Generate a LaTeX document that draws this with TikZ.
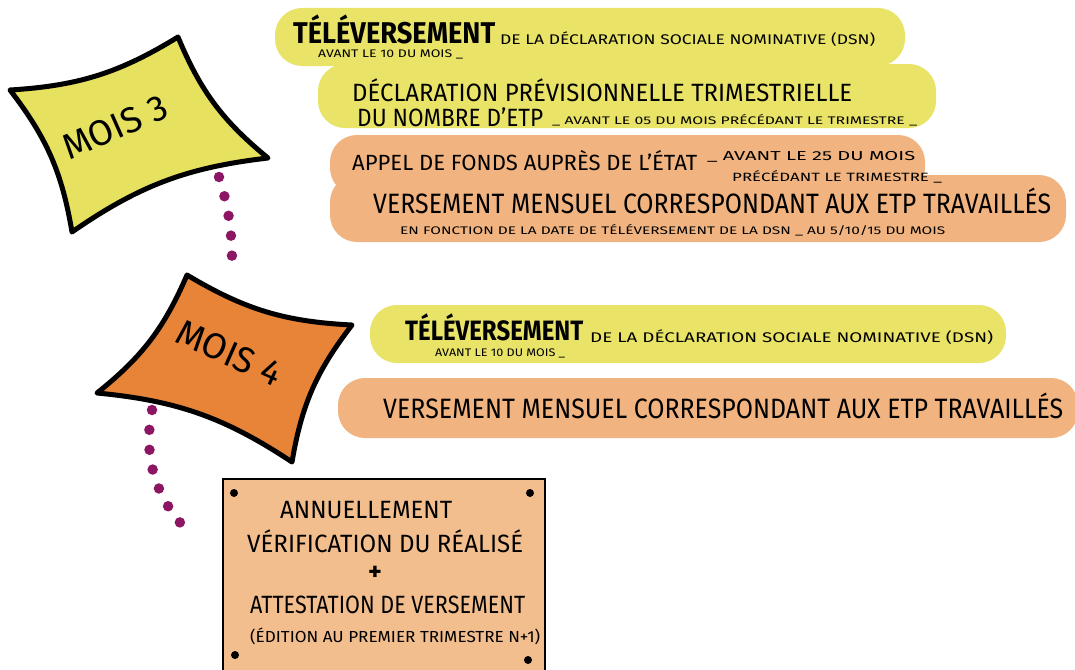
\documentclass[tikz,border=0pt]{standalone}
\usepackage{fontspec}
\usepackage{graphicx}
\setmainfont{Fira Sans}
\usetikzlibrary{calc}
\definecolor{barYellow}{RGB}{233,227,104}
\definecolor{barPeach}{RGB}{241,180,128}
\definecolor{moisYellow}{RGB}{230,225,95}
\definecolor{moisOrange}{RGB}{231,132,56}
\definecolor{boardFill}{RGB}{243,190,142}
\definecolor{dotPurple}{RGB}{140,22,100}
% stretch a line of text horizontally to a given width, keeping its height
\newcommand\hfitto[2]{\resizebox{#1}{\height}{#2}}
\tikzset{
  bar/.style={rounded corners=27pt, inner sep=0pt, draw=none},
  lbl/.style={anchor=base west, inner sep=0pt, text=black},
  moisline/.style={line width=5pt, line join=round, draw=black},
  dots/.style={draw=dotPurple, line width=10.5pt, line cap=round},
  pin/.style={circle, fill=black, inner sep=0pt, minimum size=8pt},
}
\begin{document}
\begin{tikzpicture}[x=1pt,y=-1pt]
\useasboundingbox[fill=white] (0,0) rectangle (1075,669);

% ---- coloured bands ----
\node[bar, fill=barYellow, minimum width=630pt, minimum height=58pt] (b1) at (590,37) {};
\node[bar, fill=barYellow, minimum width=618pt, minimum height=64pt] (b2) at (627,96) {};
\node[bar, fill=barPeach, minimum width=595pt, minimum height=60pt] (b3u) at (627.5,165) {};
\node[bar, fill=barPeach, minimum width=736pt, minimum height=67pt] (b3l) at (698,208.5) {};
\node[bar, fill=barYellow, minimum width=636pt, minimum height=58pt] (b4) at (688,334) {};
\node[bar, fill=barPeach, minimum width=740pt, minimum height=60pt] (b5) at (708,408) {};

% ---- month 3 ----
\coordinate (m3a) at (10,90);
\coordinate (m3b) at (178,37);
\coordinate (m3c) at (268,158);
\coordinate (m3d) at (72,232);
\draw[moisline, fill=moisYellow] (m3a) to[bend right=14] (m3b) to[bend right=14] (m3c)
  to[bend right=14] (m3d) to[bend right=14] cycle;
\node[rotate=24, inner sep=0pt] (m3t) at (115,127)
  {\fontsize{36}{36}\selectfont MOIS 3};

% ---- month 4 ----
\coordinate (m4a) at (187,275);
\coordinate (m4b) at (352,325);
\coordinate (m4c) at (292,462);
\coordinate (m4d) at (97,393);
\draw[moisline, fill=moisOrange] (m4a) to[bend right=14] (m4b) to[bend right=14] (m4c)
  to[bend right=14] (m4d) to[bend right=14] cycle;
\node[rotate=-24, inner sep=0pt] (m4t) at (229,353)
  {\fontsize{36}{36}\selectfont MOIS 4};

% ---- dotted links ----
\coordinate (d3s) at (219,177);
\coordinate (d3e) at (232,259);
\draw[dots, dash pattern=on 0pt off 20pt] (d3s) to[bend left=8] (d3e);
\coordinate (d4s) at (152,410);
\coordinate (d4e) at (183,526);
\draw[dots, dash pattern=on 0pt off 20pt] (d4s) .. controls (143,455) and (155,495) .. (d4e);

% ---- annual board ----
\node[draw=black, line width=2pt, fill=boardFill, minimum width=322pt, minimum height=200pt,
  inner sep=0pt, anchor=north west] (board) at (222,478) {};
\node[pin] (p1) at (234,493) {};
\node[pin] (p2) at (530,493) {};
\node[pin] (p3) at (235,655) {};
\node[pin] (p4) at (528,660) {};

% ---- texts of the first band ----
\node[lbl] (t1) at (293,44) {\fontsize{30}{30}\selectfont\bfseries\hfitto{202pt}{TÉLÉVERSEMENT}};
\node[lbl] (t1b) at (500,45) {\fontsize{14}{14}\selectfont\hfitto{375pt}{DE LA DÉCLARATION SOCIALE NOMINATIVE (DSN)}};
\node[lbl] (t1c) at (318,57) {\fontsize{11}{11}\selectfont\hfitto{145pt}{AVANT LE 10 DU MOIS \_}};

% ---- second band ----
\node[lbl] (t2) at (352,101) {\fontsize{25}{25}\selectfont\hfitto{500pt}{DÉCLARATION PRÉVISIONNELLE TRIMESTRIELLE}};
\node[lbl] (t2b) at (357,126) {\fontsize{25}{25}\selectfont\hfitto{186pt}{DU NOMBRE D'ETP}};
\node[lbl] (t2c) at (552,124) {\fontsize{11}{11}\selectfont\hfitto{365pt}{\_ AVANT LE 05 DU MOIS PRÉCÉDANT LE TRIMESTRE \_}};

% ---- third band ----
\node[lbl] (t3) at (352,170) {\fontsize{22}{22}\selectfont\hfitto{345pt}{APPEL DE FONDS AUPRÈS DE L'ÉTAT}};
\node[lbl] (t3b) at (707,160) {\fontsize{13}{13}\selectfont\hfitto{208pt}{\_ AVANT LE 25 DU MOIS}};
\node[lbl] (t3c) at (732,181) {\fontsize{12}{12}\selectfont\hfitto{210pt}{PRÉCÉDANT LE TRIMESTRE \_}};
\node[lbl] (t3d) at (373,213) {\fontsize{28}{28}\selectfont\hfitto{678pt}{VERSEMENT MENSUEL CORRESPONDANT AUX ETP TRAVAILLÉS}};
\node[lbl] (t3e) at (400,234) {\fontsize{11}{11}\selectfont\hfitto{545pt}{EN FONCTION DE LA DATE DE TÉLÉVERSEMENT DE LA DSN \_ AU 5/10/15 DU MOIS}};

% ---- fourth band ----
\node[lbl] (t4) at (405,340) {\fontsize{28}{28}\selectfont\bfseries\hfitto{178pt}{TÉLÉVERSEMENT}};
\node[lbl] (t4b) at (590,342) {\fontsize{14}{14}\selectfont\hfitto{403pt}{DE LA DÉCLARATION SOCIALE NOMINATIVE (DSN)}};
\node[lbl] (t4c) at (435,356) {\fontsize{11}{11}\selectfont\hfitto{130pt}{AVANT LE 10 DU MOIS \_}};

% ---- fifth band ----
\node[lbl] (t5) at (383,418) {\fontsize{28}{28}\selectfont\hfitto{680pt}{VERSEMENT MENSUEL CORRESPONDANT AUX ETP TRAVAILLÉS}};

% ---- board texts ----
\node[lbl] (a1) at (280,518) {\fontsize{25}{25}\selectfont\hfitto{172pt}{ANNUELLEMENT}};
\node[lbl] (a2) at (247,552) {\fontsize{25}{25}\selectfont\hfitto{276pt}{VÉRIFICATION DU RÉALISÉ}};
\node[inner sep=0pt] (a3) at (375,573) {\fontsize{26}{26}\selectfont\bfseries +};
\node[lbl] (a4) at (250,613) {\fontsize{25}{25}\selectfont\hfitto{275pt}{ATTESTATION DE VERSEMENT}};
\node[lbl] (a5) at (250,642) {\fontsize{16}{16}\selectfont\hfitto{290pt}{(ÉDITION AU PREMIER TRIMESTRE N+1)}};
\end{tikzpicture}
\end{document}
